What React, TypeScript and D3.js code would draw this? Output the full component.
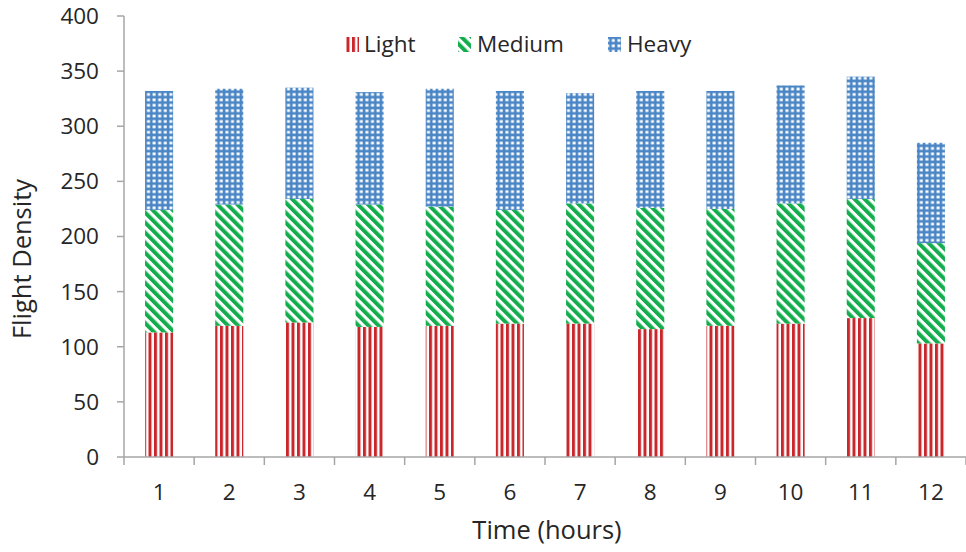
import React from "react";
import * as d3 from "d3";

const categories = ["1", "2", "3", "4", "5", "6", "7", "8", "9", "10", "11", "12"];
const light = [113, 119, 122, 118, 119, 121, 121, 116, 119, 121, 126, 103];
const medium = [111, 110, 112, 111, 108, 103, 109, 110, 106, 109, 108, 91];
const heavy = [108, 105, 101, 102, 107, 108, 100, 106, 107, 107, 111, 91];
const seriesNames = ["Light", "Medium", "Heavy"];
const yTicks = [0, 50, 100, 150, 200, 250, 300, 350, 400];

const W = 966;
const H = 552;
const FONT = "'Open Sans', Lato, sans-serif";
const FS = 22.5;
const TFS = 25.5;
const TEXT = "#262626";
const AXIS = "#A6A6A6";
const RED = "#C9272C";
const GREEN = "#14AD4D";
const BLUE = "#4A86C5";

export default function App() {
  const x = d3
    .scaleBand<string>()
    .domain(categories)
    .range([124, 966])
    .paddingInner(0.6)
    .paddingOuter(0.3);
  const y = d3.scaleLinear().domain([0, 400]).range([457, 16]);

  const table = categories.map((c, i) => ({
    cat: c,
    Light: light[i],
    Medium: medium[i],
    Heavy: heavy[i],
  }));
  const stacked = d3.stack<any>().keys(seriesNames)(table);
  const fills: Record<string, string> = {
    Light: "url(#pLight)",
    Medium: "url(#pMedium)",
    Heavy: "url(#pHeavy)",
  };

  const step = x.step();
  const boundaries = d3.range(categories.length + 1).map((i) => 124 + i * step);

  const legend = [
    { key: "Light", sx: 346, tx: 364 },
    { key: "Medium", sx: 458, tx: 477 },
    { key: "Heavy", sx: 608, tx: 627 },
  ];

  return (
    <svg
      width={W}
      height={H}
      style={{ position: "absolute", left: 0, top: 0, background: "#fff" }}
      fontFamily={FONT}
    >
      <defs>
        <pattern id="pLight" patternUnits="userSpaceOnUse" width={5.5} height={10}>
          <rect width={5.5} height={10} fill="#fff" />
          <rect x={0} width={3} height={10} fill={RED} />
        </pattern>
        <pattern
          id="pMedium"
          patternUnits="userSpaceOnUse"
          width={7.1}
          height={10}
          patternTransform="rotate(-45)"
        >
          <rect width={7.1} height={10} fill="#fff" />
          <rect x={0} width={4} height={10} fill={GREEN} />
        </pattern>
        <pattern id="pHeavy" patternUnits="userSpaceOnUse" width={5.6} height={5.4}>
          <rect width={5.6} height={5.4} fill={BLUE} />
          <rect x={1.4} y={1.3} width={3} height={2.7} fill="#fff" />
        </pattern>
      </defs>

      {/* bars */}
      {stacked.map((s) => (
        <g key={s.key}>
          {s.map((d, i) => (
            <rect
              key={i}
              x={x(categories[i])}
              width={x.bandwidth()}
              y={y(d[1])}
              height={y(d[0]) - y(d[1])}
              fill={fills[s.key]}
            />
          ))}
        </g>
      ))}

      {/* y axis */}
      <line x1={124} x2={124} y1={y(400)} y2={y(0)} stroke={AXIS} strokeWidth={1.5} />
      {yTicks.map((t) => (
        <g key={t}>
          <line x1={117} x2={124} y1={y(t)} y2={y(t)} stroke={AXIS} strokeWidth={1.5} />
          <text
            x={99}
            y={y(t)}
            dy="0.35em"
            textAnchor="end"
            fontSize={FS}
            fill={TEXT}
          >
            {t}
          </text>
        </g>
      ))}

      {/* x axis */}
      <line x1={124} x2={966} y1={y(0)} y2={y(0)} stroke={AXIS} strokeWidth={1.5} />
      {boundaries.map((b, i) => (
        <line key={i} x1={b} x2={b} y1={y(0)} y2={y(0) + 8} stroke={AXIS} strokeWidth={1.5} />
      ))}
      {categories.map((c) => (
        <text
          key={c}
          x={(x(c) as number) + x.bandwidth() / 2}
          y={492}
          dy="0.35em"
          textAnchor="middle"
          fontSize={FS}
          fill={TEXT}
        >
          {c}
        </text>
      ))}

      {/* axis titles */}
      <text x={547} y={530} dy="0.35em" textAnchor="middle" fontSize={TFS} fill={TEXT}>
        Time (hours)
      </text>
      <text
        transform="translate(22,259) rotate(-90)"
        dy="0.35em"
        textAnchor="middle"
        fontSize={TFS}
        fill={TEXT}
      >
        Flight Density
      </text>

      {/* legend */}
      {legend.map((l) => (
        <g key={l.key}>
          <rect x={l.sx} y={37} width={13} height={15} fill={fills[l.key]} />
          <text x={l.tx} y={44} dy="0.35em" fontSize={FS} fill={TEXT}>
            {l.key}
          </text>
        </g>
      ))}
    </svg>
  );
}
